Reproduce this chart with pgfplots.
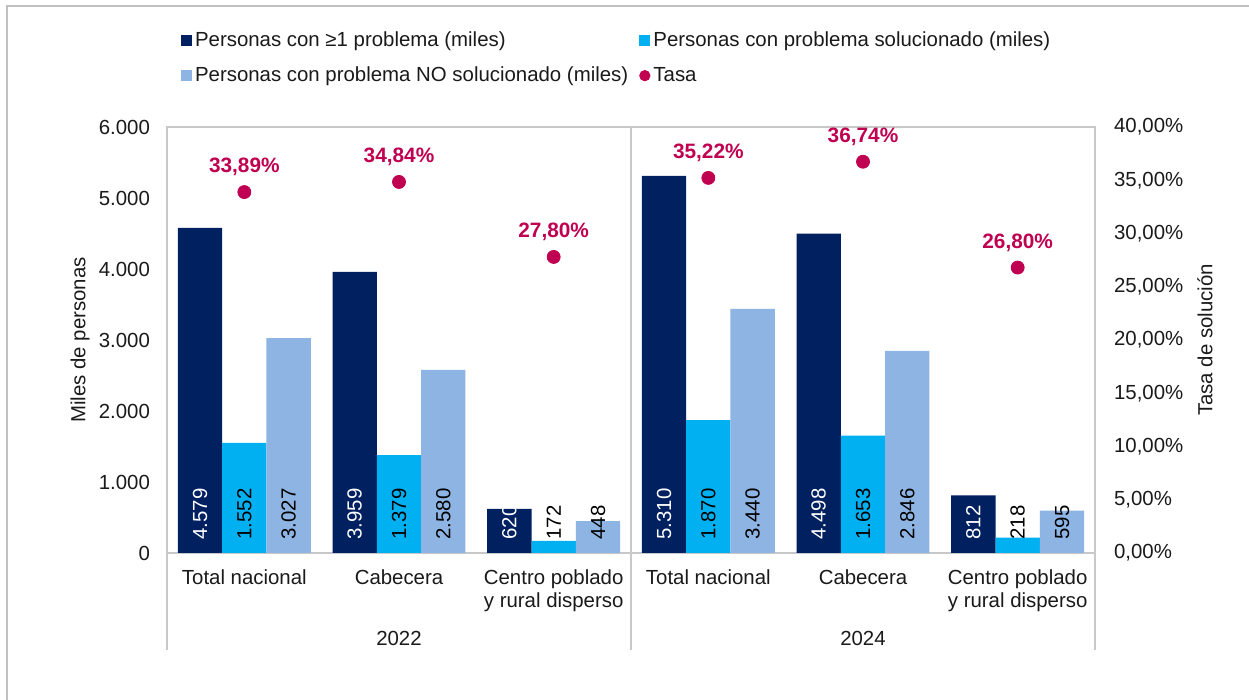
\documentclass[border=0pt]{standalone}
\usepackage{fontspec}
\setmainfont{Liberation Sans}
\usepackage{pgfplots}
\usepackage{pgfplotstable}
\pgfplotsset{compat=1.18}
\definecolor{navy}{HTML}{002060}
\definecolor{cian}{HTML}{00B0F0}
\definecolor{celeste}{HTML}{8EB4E3}
\definecolor{tasa}{HTML}{C00050}
\definecolor{marco}{HTML}{C8C8C8}
\definecolor{texto}{HTML}{1A1A1A}

% x: posicion de la categoria; a: con >=1 problema; b: solucionado; c: no solucionado; t: tasa (%)
\pgfplotstableread{
x a b c t
0 4579 1552 3027 33.89
1 3959 1379 2580 34.84
2 620 172 448 27.80
3 5310 1870 3440 35.22
4 4498 1653 2846 36.74
5 812 218 595 26.80
}\datos

\begin{document}
\begin{tikzpicture}[font=\fontsize{10.2}{11.5}\selectfont, text=texto]
\useasboundingbox (0,0) rectangle (624.5pt,350pt);
\fill[white] (0,0) rectangle (624.5pt,350pt);
\draw[marco!90!gray, line width=1.3pt] (3.5pt,0) -- (3.5pt,347pt) -- (624.5pt,347pt);

\begin{axis}[
  scale only axis, width=464pt, height=213pt,
  at={(83.5pt,73.5pt)}, anchor=south west,
  clip=false,
  xmin=-0.5, xmax=5.5, ymin=0, ymax=6000,
  xtick={0,...,5},
  xticklabels={Total nacional, Cabecera, {Centro poblado\\y rural disperso},
               Total nacional, Cabecera, {Centro poblado\\y rural disperso}},
  xticklabel style={align=center, anchor=north, yshift=-5pt},
  ytick={0,1000,...,6000},
  yticklabel style={xshift=-5pt},
  major tick length=0pt,
  axis line style={marco, line width=0.75pt},
  /pgf/number format/.cd, 1000 sep={.}, assume math mode=true, /pgfplots/.cd,
  ylabel={Miles de personas},
  ylabel style={at={([xshift=-43.5pt]rel axis cs:0,0.5)}, anchor=center, rotate=0},
  legend style={at={(0.015,1.231)}, anchor=north west, draw=none, fill=none,
                legend columns=2, row sep=5.5pt, inner sep=0pt,
                nodes={inner sep=1.5pt},
                /tikz/every even column/.append style={column sep=4pt}},
  legend cell align=left,
]
% barras
\addplot[ybar, bar width=0.2865, bar shift=0pt, fill=navy, draw=none, forget plot]
  table[x expr=\thisrow{x}-0.2865, y=a] {\datos};
\addplot[ybar, bar width=0.2865, bar shift=0pt, fill=cian, draw=none, forget plot]
  table[x=x, y=b] {\datos};
\addplot[ybar, bar width=0.2865, bar shift=0pt, fill=celeste, draw=none, forget plot]
  table[x expr=\thisrow{x}+0.2865, y=c] {\datos};

% etiquetas en la base de las barras
\addplot[draw=none, forget plot, nodes near coords, point meta=explicit,
  every node near coord/.append style={rotate=90, anchor=west, inner xsep=6.5pt,
    inner ysep=0pt, text=white}]
  table[x expr=\thisrow{x}-0.2865, y expr=0, meta=a] {\datos};
\addplot[draw=none, forget plot, nodes near coords, point meta=explicit,
  every node near coord/.append style={rotate=90, anchor=west, inner xsep=6.5pt,
    inner ysep=0pt, text=black}]
  table[x=x, y expr=0, meta=b] {\datos};
\addplot[draw=none, forget plot, nodes near coords, point meta=explicit,
  every node near coord/.append style={rotate=90, anchor=west, inner xsep=6.5pt,
    inner ysep=0pt, text=black}]
  table[x expr=\thisrow{x}+0.2865, y expr=0, meta=c] {\datos};

% separadores de grupo y anos
\draw[marco, line width=0.75pt] (axis cs:-0.5,0) -- ([yshift=-48.5pt]axis cs:-0.5,0);
\draw[marco, line width=0.75pt] (axis cs:2.5,6000) -- ([yshift=-48.5pt]axis cs:2.5,0);
\draw[marco, line width=0.75pt] (axis cs:5.5,0) -- ([yshift=-48.5pt]axis cs:5.5,0);
\node at ([yshift=-42.5pt]axis cs:1,0) {2022};
\node at ([yshift=-42.5pt]axis cs:4,0) {2024};

\addlegendimage{legend image code/.code={\fill[navy] (0pt,-2.5pt) rectangle (5pt,2.5pt);}}
\addlegendentry{Personas con ≥1 problema (miles)}
\addlegendimage{legend image code/.code={\fill[cian] (0pt,-2.5pt) rectangle (5pt,2.5pt);}}
\addlegendentry{Personas con problema solucionado (miles)}
\addlegendimage{legend image code/.code={\fill[celeste] (0pt,-2.5pt) rectangle (5pt,2.5pt);}}
\addlegendentry{Personas con problema NO solucionado (miles)}
\addlegendimage{legend image code/.code={\fill[tasa] (2.6pt,0pt) circle (2.6pt);}}
\addlegendentry{Tasa}
\end{axis}

\begin{axis}[
  scale only axis, width=464pt, height=213pt,
  at={(83.5pt,73.5pt)}, anchor=south west,
  clip=false,
  xmin=-0.5, xmax=5.5, ymin=0, ymax=40,
  axis x line=none, axis y line*=right,
  axis line style={draw=none},
  ytick={0,5,...,40},
  yticklabel={\pgfmathprintnumber[fixed, fixed zerofill, precision=2, use comma]{\tick}\%},
  yticklabel style={xshift=6pt},
  major tick length=0pt,
  /pgf/number format/assume math mode=true,
  ylabel={Tasa de solución},
  ylabel style={at={([xshift=55pt]rel axis cs:1,0.5)}, anchor=center, rotate=0},
]
\addplot[only marks, mark=*, mark size=3.25pt, color=tasa,
  nodes near coords={\pgfmathprintnumber[fixed, fixed zerofill, precision=2, use comma]{\pgfplotspointmeta}\%},
  point meta=explicit,
  every node near coord/.append style={anchor=center, yshift=12.5pt,
    font=\fontsize{10.4}{12}\selectfont\bfseries, text=tasa}]
  table[x=x, y=t, meta=t] {\datos};
\end{axis}
\end{tikzpicture}
\end{document}
